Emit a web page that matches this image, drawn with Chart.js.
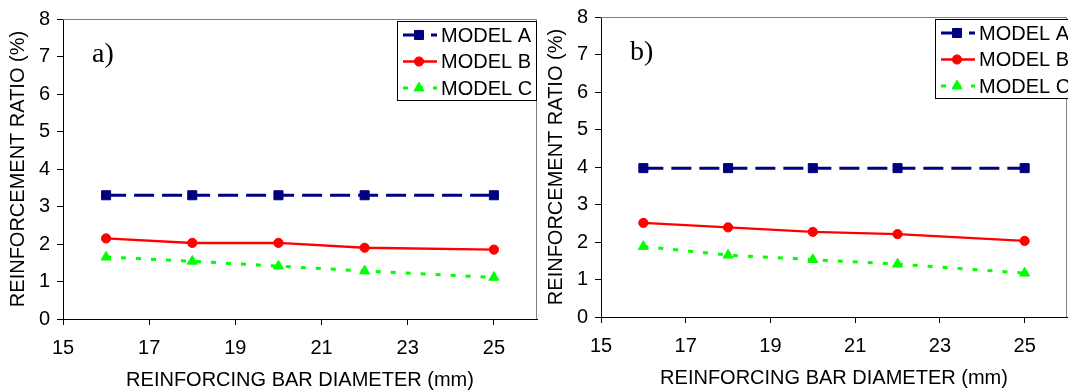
<!DOCTYPE html>
<html>
<head>
<meta charset="utf-8">
<script src="https://cdn.jsdelivr.net/npm/chart.js@4"></script>
<style>
  html, body { margin:0; padding:0; background:#fff; overflow:hidden; }
  .panel { position:absolute; top:0; height:392px; }
  #wrapA { left:0; width:538px; }
  #wrapB { left:538px; width:530px; top:-2px; }
</style>
</head>
<body>
<div class="panel" id="wrapA"><canvas id="chartA" width="538" height="392"></canvas></div>
<div class="panel" id="wrapB"><canvas id="chartB" width="530" height="392"></canvas></div>
<script>
/* Reinforcement ratio vs bar diameter — two panels a) / b) */

const diameters = [16, 18, 20, 22, 25];
const xTickValues = [15, 17, 19, 21, 23, 25];
const modelNames = ['MODEL A', 'MODEL B', 'MODEL C'];

// panel a)
const modelA_a = [3.30, 3.30, 3.30, 3.30, 3.30];
const modelB_a = [2.15, 2.03, 2.03, 1.90, 1.85];
const modelC_a = [1.65, 1.54, 1.41, 1.28, 1.11];

// panel b)
const modelA_b = [3.97, 3.97, 3.97, 3.97, 3.97];
const modelB_b = [2.51, 2.39, 2.27, 2.21, 2.03];
const modelC_b = [1.88, 1.65, 1.53, 1.41, 1.17];

Chart.defaults.font.family = "'Liberation Sans', Arial, sans-serif";
Chart.defaults.font.size = 20;
Chart.defaults.color = '#000';

const styles = [
  {borderColor:'#000080', backgroundColor:'#000080', borderWidth:3, borderDash:[20,8], pointStyle:'rect', pointRadius:6.4},
  {borderColor:'#ff0000', backgroundColor:'#ff0000', borderWidth:2.5, borderDash:[], pointStyle:'circle', pointRadius:4.6},
  {borderColor:'#00ff00', backgroundColor:'#00ff00', borderWidth:3, borderDash:[5,10], pointStyle:'triangle', pointRadius:5.8},
];

// ── plot frame + legend box + panel letter ──
const decorPlugin = {
  id:'decor',
  beforeDatasetsDraw(chart) {
    const {ctx, chartArea:a} = chart;
    ctx.save();
    ctx.strokeStyle = '#808080'; ctx.lineWidth = 1;
    ctx.beginPath();
    ctx.moveTo(a.left, Math.round(a.top)+0.5);
    ctx.lineTo(Math.round(a.right)-0.5, Math.round(a.top)+0.5);
    ctx.lineTo(Math.round(a.right)-0.5, a.bottom);
    ctx.stroke();
    ctx.restore();
  },
  afterDraw(chart, args, opts) {
    const {ctx, chartArea:a} = chart;
    ctx.save();
    // panel letter
    ctx.font = "28px 'Liberation Serif', 'Times New Roman', serif";
    ctx.fillStyle = '#000'; ctx.textBaseline = 'alphabetic';
    ctx.fillText(opts.letter, a.left + 29, 62);
    // legend
    const lx = Math.round(a.left + 334) + 0.5, ly = 21.5, lw = 139, lh = 79;
    ctx.fillStyle = '#fff'; ctx.fillRect(lx, ly, lw, lh);
    ctx.strokeStyle = '#000'; ctx.lineWidth = 1; ctx.strokeRect(lx, ly, lw, lh);
    chart.data.datasets.forEach((ds, i) => {
      const y = 35 + i * 26.5;
      const x0 = lx + 5.5, x1 = lx + 39.5, xm = lx + 21.5;
      ctx.strokeStyle = ds.borderColor; ctx.lineWidth = ds.borderWidth;
      ctx.setLineDash(ds.borderDash);
      ctx.beginPath(); ctx.moveTo(x0, y); ctx.lineTo(x1, y); ctx.stroke();
      ctx.setLineDash([]);
      ctx.fillStyle = ds.backgroundColor; ctx.strokeStyle = ds.borderColor; ctx.lineWidth = 1;
      Chart.helpers.drawPoint(ctx, {pointStyle:ds.pointStyle, radius:ds.pointRadius, rotation:0, borderWidth:1}, xm, y);
      ctx.fillStyle = '#000';
      ctx.font = "20px 'Liberation Sans', Arial, sans-serif";
      ctx.textBaseline = 'middle';
      ctx.fillText(ds.label, lx + 43.5, y + 1);
    });
    ctx.restore();
  }
};

function makeChart(id, letter, seriesA, seriesB, seriesC) {
  const series = [seriesA, seriesB, seriesC];
  return new Chart(document.getElementById(id), {
    type:'line',
    data:{
      datasets: series.map((s, i) => ({
        label: modelNames[i],
        data: diameters.map((d, j) => ({x:d, y:s[j]})),
        ...styles[i],
        pointBackgroundColor: styles[i].backgroundColor,
        pointBorderColor: styles[i].borderColor,
        pointBorderWidth: 1,
        tension: 0,
      }))
    },
    options:{
      responsive:false, animation:false,
      layout:{autoPadding:false, padding:{top:18, right:1, left:0, bottom:0}},
      plugins:{legend:{display:false}, tooltip:{enabled:false}, decor:{letter}},
      scales:{
        x:{
          type:'linear', min:15, max:26,
          afterBuildTicks: s => { s.ticks = xTickValues.map(v => ({value:v})); },
          afterFit: s => { s.height = 73; s.paddingRight = 0; s.paddingLeft = 0; },
          grid:{drawOnChartArea:false, drawTicks:true, tickLength:6, color:'#000'},
          border:{display:true, color:'#000', width:1},
          ticks:{padding:11, maxRotation:0, autoSkip:false},
          title:{display:true, text:'REINFORCING BAR DIAMETER (mm)', padding:{top:0, bottom:0}}
        },
        y:{
          min:0, max:8,
          afterFit: s => { s.width = 63; },
          grid:{drawOnChartArea:false, drawTicks:true, tickLength:6, color:'#000'},
          border:{display:true, color:'#000', width:1},
          ticks:{stepSize:1, padding:7},
          title:{display:true, text:'REINFORCEMENT RATIO (%)', padding:{top:6, bottom:0}}
        }
      }
    },
    plugins:[decorPlugin]
  });
}

makeChart('chartA', 'a)', modelA_a, modelB_a, modelC_a);
makeChart('chartB', 'b)', modelA_b, modelB_b, modelC_b);
</script>
</body>
</html>
